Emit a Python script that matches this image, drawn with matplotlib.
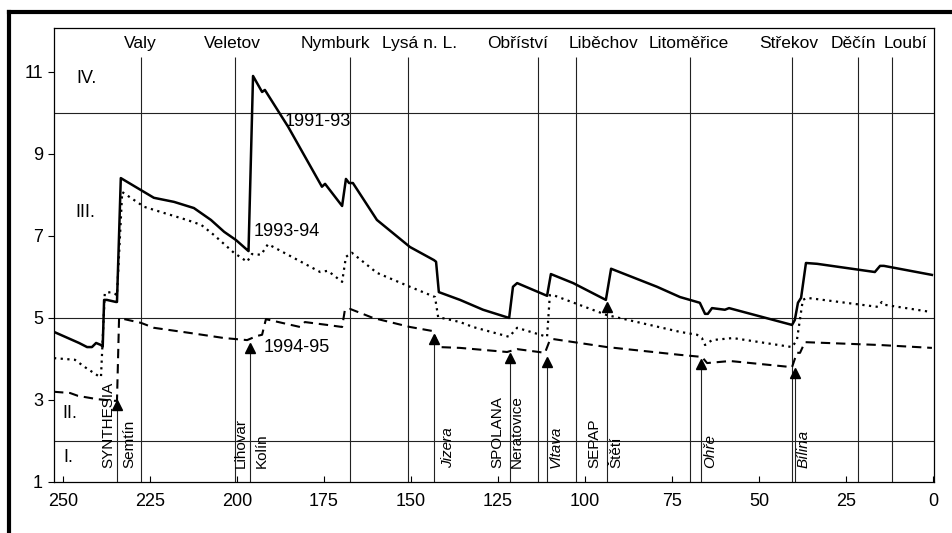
import matplotlib
matplotlib.use("Agg")
import matplotlib.pyplot as plt
from matplotlib.lines import Line2D

plt.rcParams['font.family'] = ['Liberation Sans Narrow', 'Liberation Sans', 'DejaVu Sans']

# ---- data (river km, value) ----
km_9193 = [252.6, 245.4, 243.1, 241.7, 240.5, 239.1, 238.6, 238.2, 237.4, 234.8, 234.5, 233.4,
           223.9, 218.1, 212.4, 207.5, 203.7, 200.3, 197.1, 196.7, 195.4, 192.8, 192.0, 185.3,
           175.6, 174.7, 169.8, 168.7, 167.8, 166.7, 159.8, 150.3, 143.4, 142.8, 142.0, 135.9,
           129.3, 121.8, 120.7, 119.5, 110.9, 109.8, 103.4, 94.0, 92.5, 79.3, 72.7, 67.0,
           65.5, 64.7, 63.5, 59.8, 58.6, 40.5, 39.7, 38.8, 37.9, 36.5, 33.3, 16.7, 15.2, 14.1, 0.3]
val_9193 = [4.66, 4.39, 4.29, 4.29, 4.39, 4.34, 4.30, 5.44, 5.44, 5.39, 5.39, 8.41,
            7.93, 7.83, 7.68, 7.39, 7.10, 6.90, 6.66, 6.63, 10.90, 10.51, 10.56, 9.66,
            8.20, 8.27, 7.73, 8.39, 8.29, 8.29, 7.39, 6.73, 6.41, 6.37, 5.63, 5.44,
            5.20, 5.00, 5.76, 5.85, 5.54, 6.07, 5.85, 5.44, 6.20, 5.76, 5.51, 5.37,
            5.10, 5.10, 5.24, 5.20, 5.24, 4.83, 4.95, 5.37, 5.49, 6.34, 6.32, 6.12, 6.27, 6.27, 6.05]

km_9394 = [252.6, 246.6, 243.7, 239.4, 239.1, 238.0, 236.2, 235.1, 234.5, 233.0, 226.7, 221.0,
           214.4, 210.3, 206.6, 200.9, 197.1, 195.7, 193.1, 191.1, 176.1, 173.9, 169.8, 168.7,
           167.0, 159.8, 150.3, 143.1, 142.2, 135.9, 132.2, 121.8, 119.5, 110.9, 110.1, 108.6,
           93.7, 72.7, 67.8, 66.4, 65.5, 63.5, 57.5, 40.5, 39.1, 37.4, 36.2, 15.8, 14.7, 13.8, 0.9]
val_9394 = [4.02, 3.98, 3.80, 3.56, 3.56, 5.61, 5.63, 5.59, 5.55, 8.07, 7.71, 7.56,
            7.39, 7.27, 7.02, 6.59, 6.37, 6.56, 6.54, 6.80, 6.12, 6.15, 5.88, 6.49,
            6.59, 6.10, 5.76, 5.51, 5.02, 4.90, 4.78, 4.54, 4.76, 4.54, 5.56, 5.54,
            5.07, 4.66, 4.59, 4.51, 4.34, 4.46, 4.51, 4.29, 4.46, 5.44, 5.49, 5.27, 5.39, 5.32, 5.15]

km_9495 = [252.6, 248.0, 245.7, 240.2, 235.3, 234.5, 233.9, 227.6, 223.9, 213.2, 203.7, 197.1,
           194.3, 192.8, 191.7, 181.9, 180.5, 174.1, 169.8, 169.0, 167.5, 160.9, 150.3, 143.7,
           142.0, 135.9, 122.4, 119.5, 111.5, 110.1, 109.5, 93.7, 72.7, 66.4, 64.9, 58.3,
           40.5, 39.1, 38.2, 36.8, 15.2, 0.3]
val_9495 = [3.20, 3.17, 3.10, 3.02, 2.98, 2.98, 5.00, 4.88, 4.76, 4.63, 4.51, 4.46,
            4.56, 4.59, 4.97, 4.78, 4.90, 4.83, 4.78, 5.20, 5.22, 5.00, 4.78, 4.68,
            4.29, 4.27, 4.17, 4.24, 4.15, 4.46, 4.49, 4.29, 4.10, 4.05, 3.90, 3.95,
            3.80, 4.15, 4.15, 4.41, 4.34, 4.27]

series_labels = ["1991-93", "1993-94", "1994-95"]
series_label_pos = [(176.7, 9.78), (185.6, 7.12), (182.8, 4.29)]

# stations (top labels and vertical lines)
station_names = ["Valy", "Veletov", "Nymburk", "Lysá n. L.", "Obříství", "Liběchov",
                 "Litoměřice", "Střekov", "Děčín", "Loubí"]
station_km = [227.6, 200.6, 167.5, 150.9, 113.5, 102.6, 69.8, 40.5, 21.6, 11.8]
station_label_km = [227.9, 201.4, 171.8, 147.4, 119.3, 94.8, 70.1, 41.4, 23.0, 8.0]

# sources (arrows) : km, arrow tip value
source_km = [234.5, 196.3, 143.4, 121.6, 110.9, 93.7, 66.7, 39.7]
source_tip = [3.00, 4.39, 4.61, 4.15, 4.05, 5.39, 4.00, 3.78]

# rotated bottom labels
bottom_labels = ["SYNTHESIA", "Semtín", "Lihovar", "Kolín", "Jizera", "SPOLANA", "Neratovice",
                 "Vltava", "SEPAP", "Štětí", "Ohře", "Bílina"]
bottom_label_km = [237.1, 231.0, 198.9, 192.8, 139.4, 125.3, 119.5, 108.3, 97.4, 91.1, 64.1, 37.1]
bottom_label_italic = [False, False, False, False, True, False, False, True, False, False, True, True]

class_labels = ["IV.", "III.", "II.", "I."]
class_label_pos = [(243.4, 10.85), (243.7, 7.56), (248.0, 2.66), (248.6, 1.59)]
class_limits = [2, 5, 10]

xticks = [250, 225, 200, 175, 150, 125, 100, 75, 50, 25, 0]
yticks = [1, 3, 5, 7, 9, 11]

# ---- figure ----
fig = plt.figure(figsize=(9.53, 5.33), dpi=100)
ax = fig.add_axes([54 / 953, 1 - 482 / 533, 880 / 953, 454 / 533])
ax.set_xlim(252.6, -0.3)
ax.set_ylim(1, 12.07)

lw_grid = 0.8
for yv in class_limits:
    ax.axhline(yv, color='#222222', lw=lw_grid, zorder=1)
ax.vlines(station_km, 1, 11.37, color='#222222', lw=lw_grid, zorder=1)
ax.vlines(source_km, 1, [t - 0.15 for t in source_tip], color='#222222', lw=lw_grid, zorder=1)
ax.plot(source_km, [t - 0.12 for t in source_tip], linestyle='none', marker='^',
        color='black', markersize=7, zorder=4)

ax.plot(km_9193, val_9193, color='black', lw=1.8, zorder=3)
ax.plot(km_9394, val_9394, color='black', lw=1.6, linestyle=(0, (1, 2.0)), zorder=3)
ax.plot(km_9495, val_9495, color='black', lw=1.5, linestyle=(0, (4.5, 2.8)), zorder=3)

fs = 13
for lab, (x, y) in zip(series_labels, series_label_pos):
    ax.text(x, y, lab, ha='center', va='center', fontsize=fs, zorder=5)
for lab, x in zip(station_names, station_label_km):
    ax.text(x, 11.68, lab, ha='center', va='center', fontsize=12.5)
for lab, x, it in zip(bottom_labels, bottom_label_km, bottom_label_italic):
    ax.text(x, 1.33, lab, ha='center', va='bottom', rotation=90, fontsize=11,
            style='italic' if it else 'normal')
for lab, (x, y) in zip(class_labels, class_label_pos):
    ax.text(x, y, lab, ha='center', va='center', fontsize=fs)

ax.set_xticks(xticks)
ax.set_yticks(yticks)
ax.tick_params(axis='x', direction='in', length=4, width=0.8, labelsize=fs, pad=8)
ax.tick_params(axis='y', direction='out', length=4, width=0.8, labelsize=fs, pad=4)
for s in ax.spines.values():
    s.set_linewidth(0.9)

# outer thick frame (left and top)
fig.add_artist(Line2D([9 / 953, 9 / 953], [0, 1 - 12 / 533], color='black', lw=3))
fig.add_artist(Line2D([9 / 953, 1], [1 - 12 / 533, 1 - 12 / 533], color='black', lw=3))

fig.savefig("out.png", dpi=100)
